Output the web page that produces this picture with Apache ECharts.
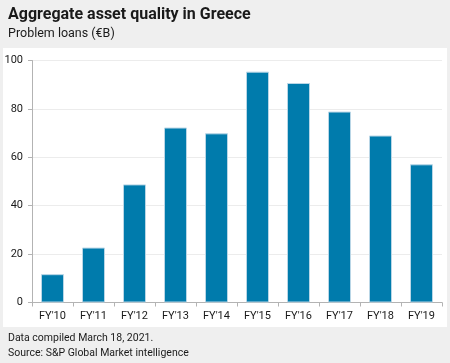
<!DOCTYPE html>
<html>
<head>
<meta charset="utf-8">
<script src="https://cdn.jsdelivr.net/npm/echarts@6/dist/echarts.min.js"></script>
<style>
html,body{margin:0;padding:0;background:#efefef;}
#c{width:450px;height:363px;}
</style>
</head>
<body>
<div id="c"></div>
<script>
var categories = ["FY'10","FY'11","FY'12","FY'13","FY'14","FY'15","FY'16","FY'17","FY'18","FY'19"];
var problemLoans = [11.7, 22.7, 48.8, 72.3, 69.9, 95.4, 90.7, 78.9, 69.0, 57.1];
var yTicks = [0, 20, 40, 60, 80, 100];
var titleText = "Aggregate asset quality in Greece";
var subtitleText = "Problem loans (€B)";
var footnotes = ["Data compiled March 18, 2021.", "Source: S&P Global Market intelligence"];

var FONT = "Roboto, 'Liberation Sans', sans-serif";
var chart = echarts.init(document.getElementById('c'), null, {renderer: 'canvas'});
chart.setOption({
  backgroundColor: '#efefef',
  animation: false,
  graphic: [
    {type: 'rect', left: 3, top: 48, z: -10, shape: {width: 444, height: 279}, style: {fill: '#ffffff'}},
    {type: 'text', left: 8, top: 7, style: {text: titleText, font: "bold 16px " + FONT, fill: '#1a1a1a'}},
    {type: 'text', left: 8, top: 27, style: {text: subtitleText, font: "12.5px " + FONT, fill: '#1a1a1a'}},
    {type: 'text', left: 8, top: 333, style: {text: footnotes[0], font: "10.5px " + FONT, fill: '#1a1a1a'}},
    {type: 'text', left: 8, top: 348, style: {text: footnotes[1], font: "10.5px " + FONT, fill: '#1a1a1a'}}
  ],
  grid: {left: 32, right: 8, top: 60.5, bottom: 60.5, containLabel: false},
  xAxis: {
    type: 'category',
    data: categories,
    axisLine: {lineStyle: {color: '#b3b3b3'}},
    axisTick: {show: true, alignWithLabel: false, length: 4, lineStyle: {color: '#b3b3b3'}},
    axisLabel: {color: '#1a1a1a', fontSize: 11, fontFamily: FONT, margin: 8}
  },
  yAxis: {
    type: 'value',
    min: yTicks[0], max: yTicks[yTicks.length - 1], interval: 20,
    axisLine: {show: true, lineStyle: {color: '#b3b3b3'}},
    axisTick: {show: true, length: 4, lineStyle: {color: '#b3b3b3'}},
    splitLine: {lineStyle: {color: '#ececec'}},
    axisLabel: {color: '#1a1a1a', fontSize: 11, fontFamily: FONT, margin: 9}
  },
  series: [{
    type: 'bar',
    data: problemLoans,
    barWidth: 23,
    itemStyle: {color: '#007bac', borderColor: '#b9d6e6', borderWidth: 1}
  }]
});
</script>
</body>
</html>
